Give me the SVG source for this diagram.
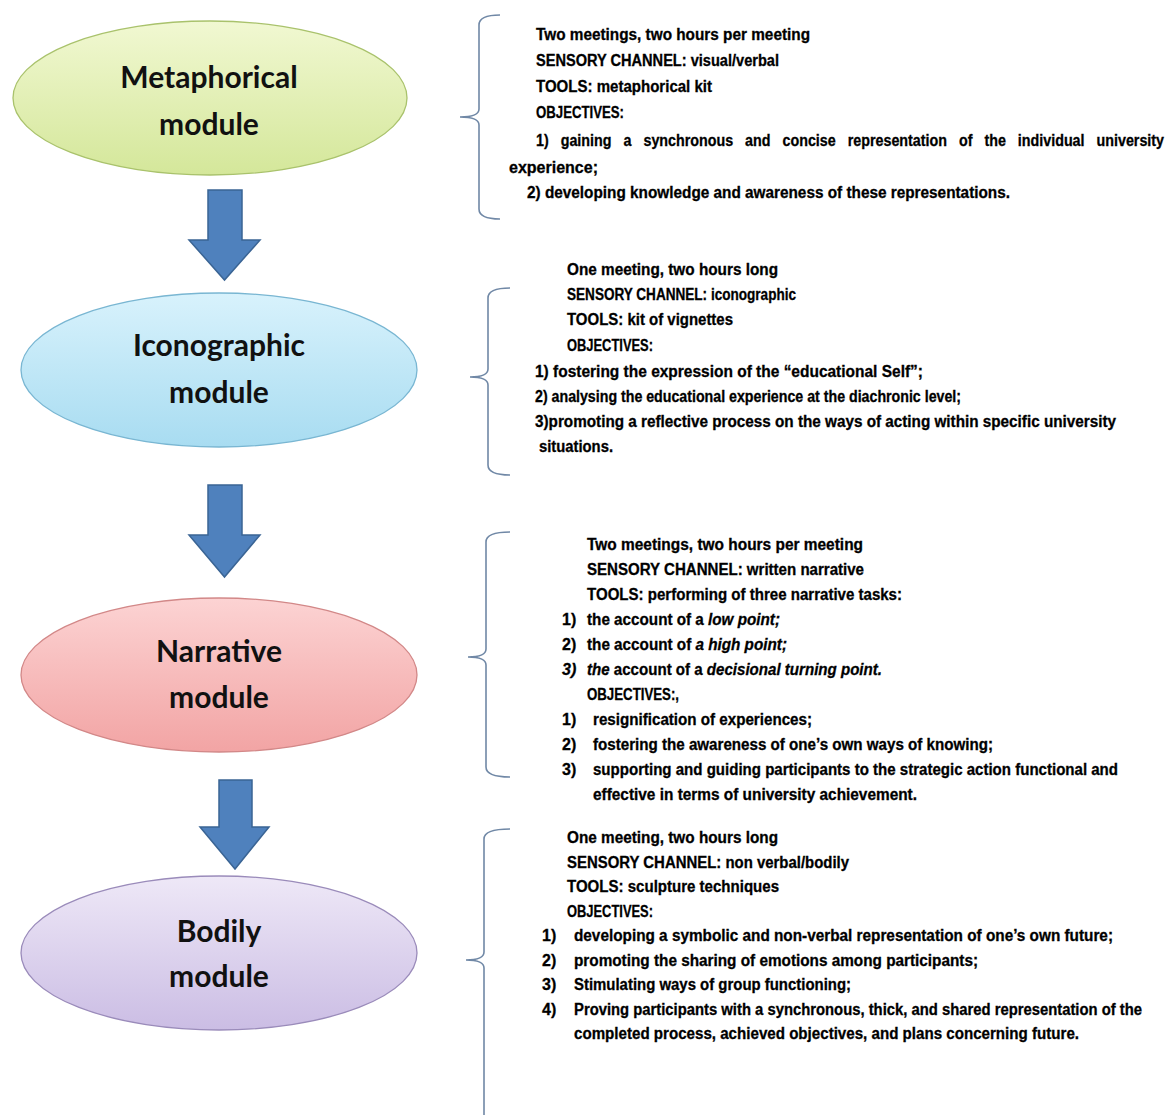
<svg xmlns="http://www.w3.org/2000/svg" width="1173" height="1115" viewBox="0 0 1173 1115">
<defs>
<linearGradient id="gGreen" x1="0" y1="0" x2="0" y2="1"><stop offset="0" stop-color="#f1f8d2"/><stop offset="1" stop-color="#d4e79a"/></linearGradient>
<linearGradient id="gBlue" x1="0" y1="0" x2="0" y2="1"><stop offset="0" stop-color="#d8f2fc"/><stop offset="1" stop-color="#a8dcf1"/></linearGradient>
<linearGradient id="gPink" x1="0" y1="0" x2="0" y2="1"><stop offset="0" stop-color="#fcd3d3"/><stop offset="1" stop-color="#f2a4a4"/></linearGradient>
<linearGradient id="gLav" x1="0" y1="0" x2="0" y2="1"><stop offset="0" stop-color="#eee8f7"/><stop offset="1" stop-color="#cbbde4"/></linearGradient>
</defs>
<style>
.title{font-family:Lato,"Open Sans","Liberation Sans",sans-serif;font-weight:bold;font-size:30px;fill:#111;text-anchor:middle}
.t{font-family:"Liberation Sans",Arial,sans-serif;font-weight:bold;font-size:16px;fill:#000;stroke:#000;stroke-width:0.3}
.i{font-style:italic}
.arrow{fill:#4f81bd;stroke:#3a6494;stroke-width:1.5}
.brace{fill:none;stroke:#7088a6;stroke-width:1.6}
.ell{stroke-width:1.3}
</style>
<rect width="1173" height="1115" fill="#ffffff"/>

<g id="node-metaphorical">
<ellipse class="ell" cx="210" cy="98" rx="197" ry="77" fill="url(#gGreen)" stroke="#a9c26c"/>
<text class="title" x="209" y="88">Metaphorical</text>
<text class="title" x="209" y="135">module</text>
</g>
<g id="node-iconographic">
<ellipse class="ell" cx="219" cy="370" rx="198" ry="77" fill="url(#gBlue)" stroke="#79b6d2"/>
<text class="title" x="219" y="356">Iconographic</text>
<text class="title" x="219" y="403">module</text>
</g>
<g id="node-narrative">
<ellipse class="ell" cx="219" cy="675" rx="198" ry="77" fill="url(#gPink)" stroke="#d28888"/>
<text class="title" x="219" y="662">Narrative</text>
<text class="title" x="219" y="708">module</text>
</g>
<g id="node-bodily">
<ellipse class="ell" cx="219" cy="953" rx="198" ry="77" fill="url(#gLav)" stroke="#9a8bba"/>
<text class="title" x="219" y="942">Bodily</text>
<text class="title" x="219" y="987">module</text>
</g>

<g id="connectors">
<polygon class="arrow" points="208,190 242,190 242,240 260,240 224.5,280 189,240 208,240"/>
<polygon class="arrow" points="208,485 242,485 242,535 260,535 224.5,577 189,535 208,535"/>
<polygon class="arrow" points="219,780 252,780 252,827 269,827 235,869 200,827 219,827"/>
</g>

<g id="braces">
<path class="brace" d="M500,15 Q479,15 479,25 L479,109 Q479,117 460,117 Q479,117 479,125 L479,209 Q479,219 500,219"/>
<path class="brace" d="M510,288 Q488,288 488,298 L488,369 Q488,377 470,377 Q488,377 488,385 L488,465 Q488,475 510,475"/>
<path class="brace" d="M510,532 Q486,532 486,542 L486,649 Q486,657 468,657 Q486,657 486,665 L486,767 Q486,777 510,777"/>
<path class="brace" d="M510,829 Q484,829 484,839 L484,952 Q484,960 466,960 Q484,960 484,968 L484,1116"/>
</g>

<g id="text-metaphorical">
<text class="t" x="536" y="40" textLength="274" lengthAdjust="spacingAndGlyphs">Two meetings, two hours per meeting</text>
<text class="t" x="536" y="66" textLength="243" lengthAdjust="spacingAndGlyphs">SENSORY CHANNEL:  visual/verbal</text>
<text class="t" x="536" y="92" textLength="176" lengthAdjust="spacingAndGlyphs">TOOLS: metaphorical kit</text>
<text class="t" x="536" y="118" textLength="88" lengthAdjust="spacingAndGlyphs">OBJECTIVES:</text>
<text class="t" x="536" y="146" textLength="628" lengthAdjust="spacingAndGlyphs" word-spacing="9">1) gaining a synchronous and concise representation of the individual university</text>
<text class="t" x="509" y="173" textLength="89" lengthAdjust="spacingAndGlyphs">experience;</text>
<text class="t" x="527" y="198" textLength="483" lengthAdjust="spacingAndGlyphs">2) developing knowledge and awareness of these representations.</text>
</g>

<g id="text-iconographic">
<text class="t" x="567" y="275" textLength="211" lengthAdjust="spacingAndGlyphs">One meeting, two hours long</text>
<text class="t" x="567" y="300" textLength="229" lengthAdjust="spacingAndGlyphs">SENSORY CHANNEL:  iconographic</text>
<text class="t" x="567" y="325" textLength="166" lengthAdjust="spacingAndGlyphs">TOOLS:  kit of vignettes</text>
<text class="t" x="567" y="351" textLength="86" lengthAdjust="spacingAndGlyphs">OBJECTIVES:</text>
<text class="t" x="535" y="377" textLength="388" lengthAdjust="spacingAndGlyphs">1) fostering the expression of the “educational Self”;</text>
<text class="t" x="535" y="402" textLength="426" lengthAdjust="spacingAndGlyphs">2) analysing the educational experience at the diachronic level;</text>
<text class="t" x="535" y="427" textLength="581" lengthAdjust="spacingAndGlyphs">3)promoting a reflective process on the  ways of acting within specific university</text>
<text class="t" x="539" y="452" textLength="74" lengthAdjust="spacingAndGlyphs">situations.</text>
</g>

<g id="text-narrative">
<text class="t" x="587" y="550" textLength="276" lengthAdjust="spacingAndGlyphs">Two meetings, two hours per meeting</text>
<text class="t" x="587" y="575" textLength="277" lengthAdjust="spacingAndGlyphs">SENSORY CHANNEL:  written  narrative</text>
<text class="t" x="587" y="600" textLength="315" lengthAdjust="spacingAndGlyphs">TOOLS: performing of three narrative tasks:</text>
<text class="t" x="562" y="625">1)</text>
<text class="t" x="587" y="625" textLength="193" lengthAdjust="spacingAndGlyphs">the account of a <tspan class="i">low point;</tspan></text>
<text class="t" x="562" y="650">2)</text>
<text class="t" x="587" y="650" textLength="200" lengthAdjust="spacingAndGlyphs">the account of <tspan class="i">a high point;</tspan></text>
<text class="t i" x="562" y="675">3)</text>
<text class="t" x="587" y="675" textLength="295" lengthAdjust="spacingAndGlyphs"><tspan class="i">the</tspan> account of a <tspan class="i">decisional turning point.</tspan></text>
<text class="t" x="587" y="700" textLength="92" lengthAdjust="spacingAndGlyphs">OBJECTIVES:,</text>
<text class="t" x="562" y="725">1)</text>
<text class="t" x="593" y="725" textLength="219" lengthAdjust="spacingAndGlyphs">resignification of experiences;</text>
<text class="t" x="562" y="750">2)</text>
<text class="t" x="593" y="750" textLength="400" lengthAdjust="spacingAndGlyphs">fostering the awareness of one’s own ways of knowing;</text>
<text class="t" x="562" y="775">3)</text>
<text class="t" x="593" y="775" textLength="525" lengthAdjust="spacingAndGlyphs">supporting and guiding participants to the strategic action functional and</text>
<text class="t" x="593" y="800" textLength="324" lengthAdjust="spacingAndGlyphs">effective in terms of university achievement.</text>
</g>

<g id="text-bodily">
<text class="t" x="567" y="843" textLength="211" lengthAdjust="spacingAndGlyphs">One meeting, two hours long</text>
<text class="t" x="567" y="867.5" textLength="282" lengthAdjust="spacingAndGlyphs">SENSORY CHANNEL:  non verbal/bodily</text>
<text class="t" x="567" y="892" textLength="212" lengthAdjust="spacingAndGlyphs">TOOLS:  sculpture techniques</text>
<text class="t" x="567" y="916.5" textLength="86" lengthAdjust="spacingAndGlyphs">OBJECTIVES:</text>
<text class="t" x="542" y="941">1)</text>
<text class="t" x="574" y="941" textLength="539" lengthAdjust="spacingAndGlyphs">developing a symbolic and non-verbal representation of one’s own future;</text>
<text class="t" x="542" y="965.5">2)</text>
<text class="t" x="574" y="965.5" textLength="404" lengthAdjust="spacingAndGlyphs">promoting  the sharing of emotions among participants;</text>
<text class="t" x="542" y="990">3)</text>
<text class="t" x="574" y="990" textLength="277" lengthAdjust="spacingAndGlyphs">Stimulating ways of group functioning;</text>
<text class="t" x="542" y="1014.5">4)</text>
<text class="t" x="574" y="1014.5" textLength="568" lengthAdjust="spacingAndGlyphs">Proving participants with a synchronous, thick, and shared representation of the</text>
<text class="t" x="574" y="1039" textLength="505" lengthAdjust="spacingAndGlyphs">completed  process,  achieved objectives, and plans concerning future.</text>
</g>
</svg>
